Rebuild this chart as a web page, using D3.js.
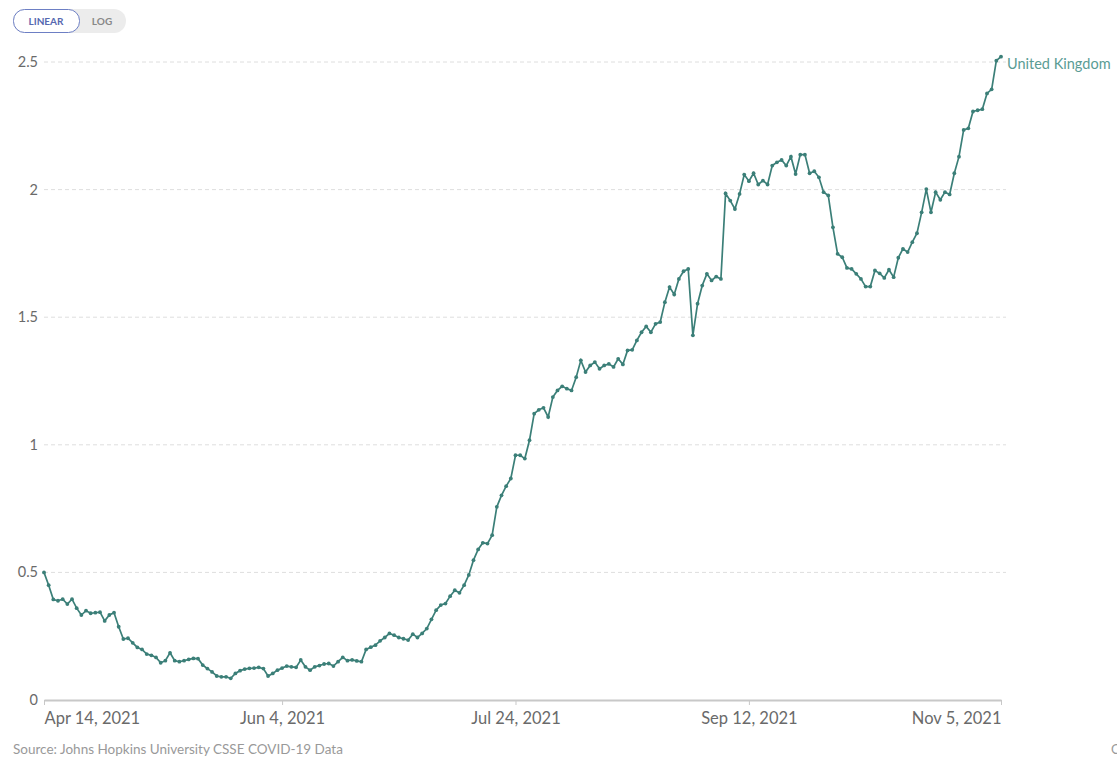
<!DOCTYPE html>
<html>
<head>
<meta charset="utf-8">
<script src="https://cdn.jsdelivr.net/npm/d3@7"></script>
<style>
  body { margin: 0; background: #fff; }
  svg { font-family: Lato, "Open Sans", sans-serif; }
</style>
</head>
<body>
<svg width="1117" height="760"></svg>
<script>
// daily values starting Apr 14, 2021
let startDate = new Date(2021, 3, 14)
let values = [
    0.50, 0.45, 0.394, 0.389, 0.395, 0.376, 0.395, 0.36, 0.333, 0.35,
    0.34, 0.342, 0.344, 0.31, 0.333, 0.342, 0.287, 0.239, 0.242, 0.224,
    0.206, 0.198, 0.18, 0.175, 0.167, 0.146, 0.154, 0.185, 0.154, 0.15,
    0.154, 0.159, 0.163, 0.162, 0.137, 0.123, 0.11, 0.094, 0.091, 0.091,
    0.085, 0.104, 0.115, 0.121, 0.124, 0.125, 0.128, 0.123, 0.094, 0.104,
    0.117, 0.125, 0.133, 0.13, 0.128, 0.157, 0.13, 0.117, 0.13, 0.135,
    0.141, 0.143, 0.133, 0.15, 0.167, 0.154, 0.157, 0.153, 0.15, 0.198,
    0.207, 0.215, 0.232, 0.245, 0.261, 0.254, 0.245, 0.24, 0.235, 0.258,
    0.245, 0.261, 0.28, 0.316, 0.352, 0.372, 0.378, 0.407, 0.43, 0.42,
    0.45, 0.49, 0.548, 0.59, 0.616, 0.613, 0.646, 0.757, 0.802, 0.838,
    0.868, 0.959, 0.959, 0.946, 1.018, 1.122, 1.137, 1.145, 1.109, 1.187,
    1.213, 1.229, 1.22, 1.213, 1.265, 1.331, 1.285, 1.311, 1.324, 1.298,
    1.311, 1.317, 1.305, 1.337, 1.315, 1.37, 1.372, 1.409, 1.441, 1.464,
    1.441, 1.474, 1.481, 1.559, 1.618, 1.589, 1.65, 1.68, 1.689, 1.429,
    1.553, 1.624, 1.67, 1.644, 1.659, 1.65, 1.985, 1.957, 1.924, 1.983,
    2.059, 2.033, 2.064, 2.02, 2.035, 2.02, 2.094, 2.107, 2.116, 2.094,
    2.129, 2.061, 2.137, 2.137, 2.064, 2.072, 2.048, 1.99, 1.977, 1.852,
    1.748, 1.735, 1.693, 1.689, 1.67, 1.65, 1.62, 1.62, 1.683, 1.672,
    1.654, 1.686, 1.657, 1.733, 1.768, 1.755, 1.794, 1.829, 1.911, 2.002,
    1.911, 1.99, 1.96, 1.99, 1.981, 2.064, 2.129, 2.234, 2.24, 2.306,
    2.311, 2.315, 2.377, 2.393, 2.505, 2.521
]
let tickDates = ['2021-04-14', '2021-06-04', '2021-07-24', '2021-09-12', '2021-11-05']
let tickLabels = ['Apr 14, 2021', 'Jun 4, 2021', 'Jul 24, 2021', 'Sep 12, 2021', 'Nov 5, 2021']
let yTicks = [0, 0.5, 1, 1.5, 2, 2.5]
let seriesName = 'United Kingdom'

let lineColor = '#3b7f78'

let data = values.map((v, i) => ({ date: d3.timeDay.offset(startDate, i), value: v }))
let parse = d3.timeParse('%Y-%m-%d')

let svg = d3.select('svg')

let x = d3.scaleTime()
    .domain([startDate, data[data.length - 1].date])
    .range([44, 1001])
let y = d3.scaleLinear().domain([0, 2.5]).range([700, 62])

// grid
svg.append('g')
    .selectAll('line')
    .data(yTicks.filter(d => d > 0))
    .enter()
    .append('line')
    .attr('x1', 44)
    .attr('x2', 1006)
    .attr('y1', d => y(d))
    .attr('y2', d => y(d))
    .attr('stroke', '#dedede')
    .attr('stroke-dasharray', '4,3')

// y labels
svg.append('g')
    .selectAll('text')
    .data(yTicks)
    .enter()
    .append('text')
    .text(d => d)
    .attr('x', 38)
    .attr('y', d => y(d))
    .attr('dy', '0.35em')
    .attr('text-anchor', 'end')
    .attr('font-size', 14.5)
    .attr('fill', '#6a6a6a')

// x axis
let xAxis = d3.axisBottom(x)
    .tickValues(tickDates.map(parse))
    .tickFormat((d, i) => tickLabels[i])
    .tickSize(5)
    .tickSizeOuter(0)
let ax = svg.append('g')
    .attr('transform', 'translate(0,700)')
    .call(xAxis)
ax.select('.domain').attr('stroke', '#c8c8c8').attr('stroke-width', 2)
ax.selectAll('.tick line').attr('stroke', '#c8c8c8')
ax.selectAll('.tick text')
    .attr('font-family', 'Lato, sans-serif')
    .attr('font-size', 16.5)
    .attr('fill', '#6a6a6a')
    .attr('dy', '0.95em')
    .attr('text-anchor', (d, i) => i === 0 ? 'start' : (i === tickDates.length - 1 ? 'end' : 'middle'))

// line + points
let line = d3.line().x(d => x(d.date)).y(d => y(d.value))
svg.append('path')
    .datum(data)
    .attr('d', line)
    .attr('fill', 'none')
    .attr('stroke', lineColor)
    .attr('stroke-width', 1.7)
svg.append('g')
    .selectAll('circle')
    .data(data)
    .enter()
    .append('circle')
    .attr('cx', d => x(d.date))
    .attr('cy', d => y(d.value))
    .attr('r', 1.9)
    .attr('fill', lineColor)

// series label
let last = data[data.length - 1]
svg.append('text')
    .text(seriesName)
    .attr('x', x(last.date) + 6)
    .attr('y', y(last.value) + 12)
    .attr('font-size', 14.5)
    .attr('fill', '#5a9c94')

// linear / log toggle
let tg = svg.append('g').attr('transform', 'translate(13,9)')
tg.append('rect')
    .attr('width', 113).attr('height', 24).attr('rx', 12)
    .attr('fill', '#ececec')
tg.append('rect')
    .attr('x', 0.5).attr('y', 0.5)
    .attr('width', 66).attr('height', 23).attr('rx', 11)
    .attr('fill', '#fff')
    .attr('stroke', '#6d7fc4')
tg.append('text').text('LINEAR')
    .attr('x', 33).attr('y', 16)
    .attr('text-anchor', 'middle')
    .attr('font-size', 10).attr('font-weight', 'bold')
    .attr('fill', '#5668b0')
tg.append('text').text('LOG')
    .attr('x', 89).attr('y', 16)
    .attr('text-anchor', 'middle')
    .attr('font-size', 10).attr('font-weight', 'bold')
    .attr('fill', '#888')

// footer
svg.append('text')
    .text('Source: Johns Hopkins University CSSE COVID-19 Data')
    .attr('x', 13).attr('y', 754)
    .attr('font-size', 13.5)
    .attr('fill', '#999')
svg.append('text')
    .text('CC BY')
    .attr('x', 1111).attr('y', 754)
    .attr('font-size', 13)
    .attr('fill', '#999')
</script>
</body>
</html>
